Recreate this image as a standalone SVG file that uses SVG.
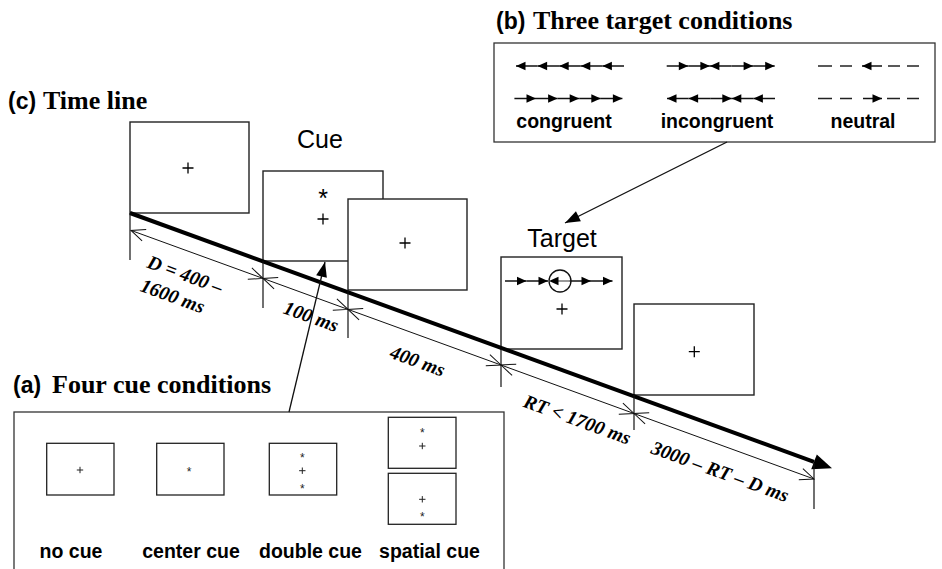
<svg xmlns="http://www.w3.org/2000/svg" width="942" height="569" viewBox="0 0 942 569">
<defs>
<style>
.frame{fill:#fff;stroke:#222;stroke-width:1.4}
.box{fill:none;stroke:#333;stroke-width:1.3}
.sf{fill:#fff;stroke:#222;stroke-width:1.3}
.title{font-family:"Liberation Serif",serif;font-weight:bold;font-size:26px;fill:#000}
.tag{font-family:"Liberation Sans",sans-serif;font-weight:bold;font-size:23px;fill:#000}
.lbl{font-family:"Liberation Sans",sans-serif;font-weight:bold;font-size:19.5px;text-anchor:middle;fill:#000}
.cap{font-family:"Liberation Sans",sans-serif;font-size:25px;text-anchor:middle;fill:#000}
.as{font-family:"Liberation Sans",sans-serif;font-size:25px;text-anchor:middle;fill:#000}
.sas{font-family:"Liberation Sans",sans-serif;font-size:12px;text-anchor:middle;fill:#222}
.cross{stroke:#000;stroke-width:1.3;fill:none}
.scross{stroke:#222;stroke-width:1;fill:none}
.dur{font-family:"Liberation Serif",serif;font-weight:bold;font-style:italic;font-size:19.5px;text-anchor:middle;fill:#000}
.dim{stroke:#111;stroke-width:1;fill:none;marker-start:url(#oa);marker-end:url(#oa)}
.tick{stroke:#111;stroke-width:1.2}
.sa{stroke:#111;stroke-width:1.5;marker-end:url(#sh)}
.dash{stroke:#222;stroke-width:1.5}
</style>
<marker id="oa" markerUnits="userSpaceOnUse" viewBox="-16 -8 17 16" markerWidth="17" markerHeight="16" refX="0" refY="0" orient="auto-start-reverse">
<path d="M-14,-6 L0,0 L-14,6" fill="none" stroke="#111" stroke-width="1"/>
</marker>
<marker id="sh" markerUnits="userSpaceOnUse" viewBox="-11 -6 12 12" markerWidth="12" markerHeight="12" refX="0" refY="0" orient="auto">
<path d="M0,0 L-9.5,-4.2 L-9.5,4.2Z" fill="#000"/>
</marker>
<marker id="big" markerUnits="userSpaceOnUse" viewBox="-16 -7 17 14" markerWidth="17" markerHeight="14" refX="0" refY="0" orient="auto">
<path d="M0,0 L-15,-5.5 L-15,5.5Z" fill="#000"/>
</marker>
<path id="bx" d="M-5.5,0 H5.5 M0,-5.5 V5.5"/>
<path id="sx" d="M-3.2,0 H3.2 M0,-3.2 V3.2"/>
</defs>
<rect width="942" height="569" fill="#fff"/>

<!-- titles -->
<g id="title-b">
<text class="tag" x="496" y="29">(b)</text>
<text class="title" x="533" y="29">Three target conditions</text>
</g>
<g id="title-c">
<text class="tag" x="8" y="108.5">(c)</text>
<text class="title" x="43" y="108.5">Time line</text>
</g>
<g id="title-a">
<text class="tag" x="13" y="393">(a)</text>
<text class="title" x="52" y="393">Four cue conditions</text>
</g>

<!-- (b) target conditions box -->
<g id="target-conditions">
<rect class="box" x="494" y="43" width="441" height="99"/>
<g id="congruent">
<line class="sa" x1="537.6" y1="66" x2="516" y2="66"/>
<line class="sa" x1="559.2" y1="66" x2="537.6" y2="66"/>
<line class="sa" x1="580.8" y1="66" x2="559.2" y2="66"/>
<line class="sa" x1="602.4" y1="66" x2="580.8" y2="66"/>
<line class="sa" x1="624" y1="66" x2="602.4" y2="66"/>
<line class="sa" x1="514.4" y1="98.5" x2="536" y2="98.5"/>
<line class="sa" x1="536" y1="98.5" x2="557.6" y2="98.5"/>
<line class="sa" x1="557.6" y1="98.5" x2="579.2" y2="98.5"/>
<line class="sa" x1="579.2" y1="98.5" x2="600.8" y2="98.5"/>
<line class="sa" x1="600.8" y1="98.5" x2="622.4" y2="98.5"/>
<text class="lbl" x="564" y="128">congruent</text>
</g>
<g id="incongruent">
<line class="sa" x1="666.7" y1="66" x2="688.3" y2="66"/>
<line class="sa" x1="688.3" y1="66" x2="709.9" y2="66"/>
<line class="sa" x1="731.5" y1="66" x2="709.9" y2="66"/>
<line class="sa" x1="731.5" y1="66" x2="753.1" y2="66"/>
<line class="sa" x1="753.1" y1="66" x2="774.7" y2="66"/>
<line class="sa" x1="688.6" y1="98.5" x2="667" y2="98.5"/>
<line class="sa" x1="710.2" y1="98.5" x2="688.6" y2="98.5"/>
<line class="sa" x1="710.2" y1="98.5" x2="731.8" y2="98.5"/>
<line class="sa" x1="753.4" y1="98.5" x2="731.8" y2="98.5"/>
<line class="sa" x1="775" y1="98.5" x2="753.4" y2="98.5"/>
<text class="lbl" x="717" y="128">incongruent</text>
</g>
<g id="neutral">
<line class="dash" x1="818" y1="66" x2="832" y2="66"/>
<line class="dash" x1="840" y1="66" x2="852" y2="66"/>
<line class="sa" x1="882" y1="66" x2="862" y2="66"/>
<line class="dash" x1="888" y1="66" x2="900" y2="66"/>
<line class="dash" x1="907" y1="66" x2="919" y2="66"/>
<line class="dash" x1="818" y1="98.5" x2="832" y2="98.5"/>
<line class="dash" x1="840" y1="98.5" x2="852" y2="98.5"/>
<line class="sa" x1="863" y1="98.5" x2="882" y2="98.5"/>
<line class="dash" x1="887" y1="98.5" x2="900" y2="98.5"/>
<line class="dash" x1="907" y1="98.5" x2="919" y2="98.5"/>
<text class="lbl" x="863" y="128">neutral</text>
</g>
</g>

<!-- (a) cue conditions box -->
<g id="cue-conditions">
<rect class="box" x="14" y="412" width="490" height="200"/>
<g id="no-cue">
<rect class="sf" x="46.7" y="443.3" width="67.3" height="51.7"/>
<use href="#sx" class="scross" x="80" y="470"/>
<text class="lbl" x="71" y="558">no cue</text>
</g>
<g id="center-cue">
<rect class="sf" x="156.7" y="443.3" width="67.3" height="51.7"/>
<text class="sas" x="189" y="476.3">*</text>
<text class="lbl" x="191" y="558">center cue</text>
</g>
<g id="double-cue">
<rect class="sf" x="269.3" y="443.3" width="67.4" height="51.7"/>
<text class="sas" x="302.3" y="462">*</text>
<use href="#sx" class="scross" x="302.3" y="470.7"/>
<text class="sas" x="302.3" y="492.7">*</text>
<text class="lbl" x="310.5" y="558">double cue</text>
</g>
<g id="spatial-cue">
<rect class="sf" x="388.3" y="417.3" width="67.7" height="51"/>
<text class="sas" x="422.3" y="437">*</text>
<use href="#sx" class="scross" x="422.3" y="446"/>
<rect class="sf" x="388.3" y="473.3" width="67.7" height="51"/>
<use href="#sx" class="scross" x="422.3" y="499.3"/>
<text class="sas" x="422.3" y="521.3">*</text>
<text class="lbl" x="429.5" y="558">spatial cue</text>
</g>
</g>

<!-- time line frames -->
<g id="fixation-1">
<rect class="frame" x="130" y="122" width="119" height="91"/>
<use href="#bx" class="cross" x="188" y="168"/>
</g>
<g id="cue">
<text class="cap" x="320" y="148">Cue</text>
<rect class="frame" x="263" y="171" width="120" height="90"/>
<text class="as" x="323" y="207">*</text>
<use href="#bx" class="cross" x="323" y="219"/>
</g>
<g id="fixation-2">
<rect class="frame" x="348" y="199" width="119" height="91"/>
<use href="#bx" class="cross" x="405" y="243"/>
</g>
<g id="target">
<text class="cap" x="562" y="246.7">Target</text>
<rect class="frame" x="501" y="257" width="121" height="92"/>
<line class="sa" x1="505" y1="281" x2="526.5" y2="281"/>
<line class="sa" x1="526.5" y1="281" x2="548" y2="281"/>
<line x1="569.5" y1="281" x2="557" y2="281" stroke="#777" stroke-width="1.5"/>
<path d="M549,281 L558.5,276.8 L558.5,285.2Z" fill="#000"/>
<line class="sa" x1="569.5" y1="281" x2="591" y2="281"/>
<line class="sa" x1="591" y1="281" x2="612.5" y2="281"/>
<circle cx="560" cy="281" r="11" fill="none" stroke="#111" stroke-width="1.3"/>
<use href="#bx" class="cross" x="562" y="309"/>
</g>
<g id="fixation-3">
<rect class="frame" x="634" y="304" width="120" height="91"/>
<use href="#bx" class="cross" x="694.3" y="351.7"/>
</g>

<!-- connectors -->
<g id="connectors">
<line x1="130" y1="213" x2="814" y2="461.8" stroke="#000" stroke-width="4"/>
<polygon points="832,468.3 811.2,469.2 816.8,454.4" fill="#000"/>
<line class="tick" x1="130" y1="213" x2="130" y2="260"/>
<line class="tick" x1="263" y1="261" x2="263" y2="308"/>
<line class="tick" x1="348" y1="290" x2="348" y2="338"/>
<line class="tick" x1="501" y1="349" x2="501" y2="387"/>
<line class="tick" x1="634" y1="395" x2="634" y2="430"/>
<line class="tick" x1="814" y1="463" x2="814" y2="509"/>
<line class="dim" x1="131" y1="230.4" x2="263" y2="278.4"/>
<line class="dim" x1="263" y1="278.4" x2="348" y2="309.4"/>
<line class="dim" x1="348" y1="309.4" x2="501" y2="365"/>
<line class="dim" x1="501" y1="365" x2="634" y2="413.5"/>
<line class="dim" x1="634" y1="413.5" x2="814" y2="479"/>
<line x1="289" y1="412" x2="325" y2="262" stroke="#111" stroke-width="1.3" marker-end="url(#big)"/>
<line x1="727" y1="142" x2="565" y2="223" stroke="#111" stroke-width="1.3" marker-end="url(#big)"/>
</g>

<!-- duration labels -->
<g id="durations">
<text class="dur" transform="translate(185,275) rotate(20)" y="6">D = 400 –</text>
<text class="dur" transform="translate(172.5,296.5) rotate(20)" y="6">1600 ms</text>
<text class="dur" transform="translate(311,317) rotate(20)" y="6">100 ms</text>
<text class="dur" transform="translate(417.5,361.5) rotate(20)" y="6">400 ms</text>
<text class="dur" transform="translate(577,420) rotate(20)" y="6">RT &lt; 1700 ms</text>
<text class="dur" transform="translate(720,472) rotate(20)" y="6">3000 – RT – D ms</text>
</g>
</svg>
